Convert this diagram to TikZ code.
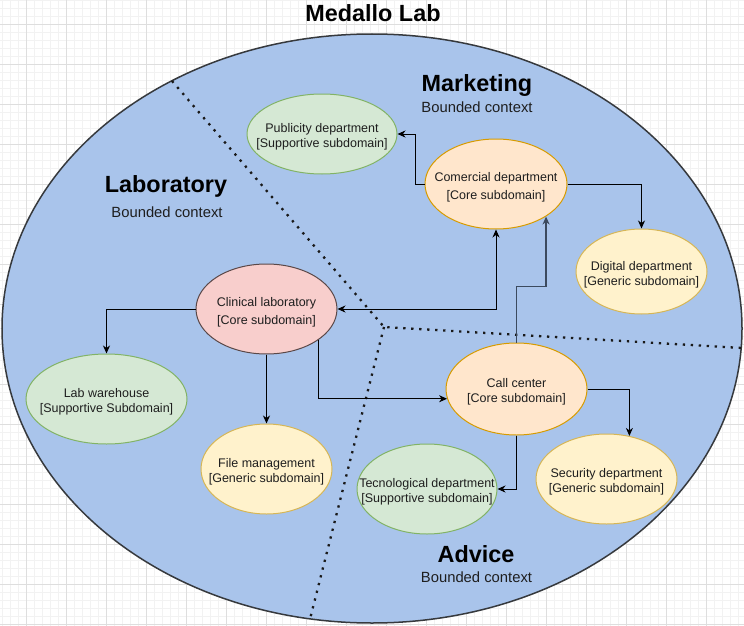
\documentclass[tikz,border=0pt]{standalone}
\usepackage{fontspec}
\setmainfont{Liberation Sans}
\usetikzlibrary{arrows.meta,shapes.geometric}
\definecolor{bigfill}{HTML}{A9C4EB}
\definecolor{bigdraw}{HTML}{36393D}
\definecolor{grfill}{HTML}{D5E8D4}
\definecolor{grdraw}{HTML}{82B366}
\definecolor{orfill}{HTML}{FFE6CC}
\definecolor{ordraw}{HTML}{D79B00}
\definecolor{yefill}{HTML}{FFF2CC}
\definecolor{yedraw}{HTML}{D6B656}
\definecolor{rdfill}{HTML}{F8CECC}
\definecolor{rddraw}{HTML}{5A4848}
\definecolor{minorgrid}{HTML}{F2F2F2}
\definecolor{majorgrid}{HTML}{DEDEDE}
\definecolor{txt}{HTML}{1E1E1E}
\definecolor{slate}{HTML}{3C4A5E}
\newcommand\twoline[2]{\makebox[0pt]{\raisebox{-6.3pt}[0pt][0pt]{\begin{tabular}{@{}c@{}}#1\\\relax #2\end{tabular}}}}
\tikzset{
  ent/.style={ellipse, draw, line width=1pt, inner sep=0pt, text=txt,
    font=\fontsize{12.5}{15}\selectfont},
  widesp/.style={font=\fontsize{12.5}{17.8}\selectfont},
  support/.style={ent, fill=grfill, draw=grdraw},
  core/.style={ent, fill=orfill, draw=ordraw},
  generic/.style={ent, fill=yefill, draw=yedraw},
  corered/.style={ent, fill=rdfill, draw=rddraw},
  bigtitle/.style={font=\fontsize{23.4}{27}\selectfont\bfseries, text=black, inner sep=0pt, anchor=base},
  subtitle/.style={font=\fontsize{14.8}{18}\selectfont, text=txt, inner sep=0pt, anchor=base},
  divider/.style={draw=black!90, line width=2.3pt, dash pattern=on 2.3pt off 5.7pt},
  arr/.style={draw=black, line width=1pt, -{Stealth[length=8pt,width=7pt,inset=2.5pt]}},
  biarr/.style={draw=black, line width=1pt, {Stealth[length=8pt,width=7pt,inset=2.5pt]}-{Stealth[length=8pt,width=7pt,inset=2.5pt]}},
}
\begin{document}
\begin{tikzpicture}[x=1pt,y=-1pt]
\useasboundingbox (0,0) rectangle (744,626);
\fill[white] (0,0) rectangle (744,626);
\foreach \x in {2.7,10.7,...,744} \draw[minorgrid, line width=0.8pt] (\x,0) -- (\x,626);
\foreach \y in {0,8,...,626} \draw[minorgrid, line width=0.8pt] (0,\y) -- (744,\y);
\foreach \x in {26.7,66.7,...,744} \draw[majorgrid, line width=0.8pt] (\x,0) -- (\x,626);
\foreach \y in {24,64,...,626} \draw[majorgrid, line width=0.8pt] (0,\y) -- (744,\y);

% organisation
\node[ellipse, fill=bigfill, draw=bigdraw, line width=1.5pt, inner sep=0pt,
      minimum width=740pt, minimum height=589pt] (org) at (372,328.5) {};

% context dividers
\coordinate (j) at (384,327);
\coordinate (d1) at (172,81);
\coordinate (d2) at (742,348);
\coordinate (d3) at (310,619);
\draw[divider] (d1) -- (j) -- (d2);
\draw[divider] (j) -- (d3);

% titles
\node[bigtitle] (title) at (373,22) {Medallo Lab};
\node[bigtitle] (mkt) at (477,92) {Marketing};
\node[subtitle] (mktb) at (477,112) {Bounded context};
\node[bigtitle] (lab) at (166,192) {Laboratory};
\node[subtitle] (labb) at (167,217) {Bounded context};
\node[bigtitle] (adv) at (476,562) {Advice};
\node[subtitle] (advb) at (476.5,582) {Bounded context};

% subdomains
\node[support, minimum width=150pt, minimum height=80pt] (pub) at (322,134)
  {\twoline{Publicity department}{[Supportive subdomain]}};
\node[core, widesp, minimum width=142pt, minimum height=90pt] (com) at (496,184)
  {\twoline{Comercial department}{[Core subdomain]}};
\node[generic, minimum width=131pt, minimum height=85pt] (dig) at (641.5,271.5)
  {\twoline{Digital department}{[Generic subdomain]}};
\node[corered, widesp, minimum width=141pt, minimum height=90pt] (cl) at (266.5,309)
  {\twoline{Clinical laboratory}{[Core subdomain]}};
\node[support, minimum width=161pt, minimum height=90pt] (lw) at (106.5,399)
  {\twoline{Lab warehouse}{[Supportive Subdomain]}};
\node[generic, minimum width=131pt, minimum height=90pt] (fm) at (266.5,469)
  {\twoline{File management}{[Generic subdomain]}};
\node[core, minimum width=141pt, minimum height=92pt] (cc) at (516.5,389)
  {\twoline{Call center}{[Core subdomain]}};
\node[support, minimum width=140pt, minimum height=90pt] (tec) at (427,489)
  {\twoline{Tecnological department}{[Supportive subdomain]}};
\node[generic, minimum width=141pt, minimum height=90pt] (sec) at (606.5,479)
  {\twoline{Security department}{[Generic subdomain]}};

% connectors
\draw[arr] (com.west) -- ++(-9,0) |- (pub.east);
\draw[arr] (com.east) -| (dig.north);
\draw[biarr] (cl.east) -| (com.south);
\draw[arr, draw=slate, line width=1.2pt] (cc.north) -- ++(0,-56) -| (com.-33);
\draw[arr] (cl.west) -| (lw.north);
\draw[arr] (cl.south) -- (fm.north);
\draw[arr] (cl.-31) |- (cc.188);
\draw[arr] (cc.east) -| (sec.62);
\draw[arr] (cc.south) |- (tec.east);
\end{tikzpicture}
\end{document}
